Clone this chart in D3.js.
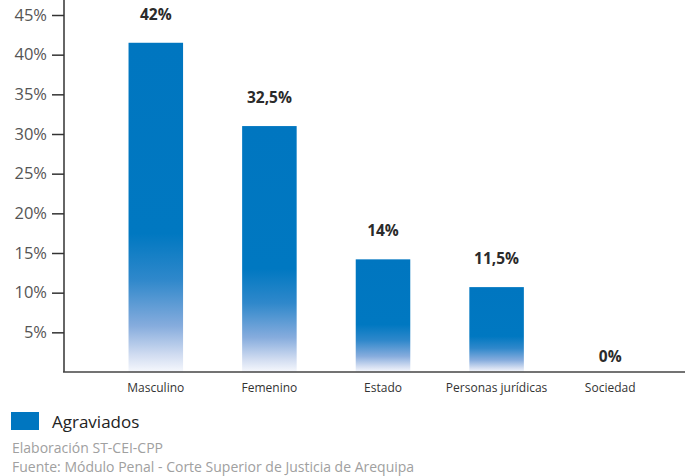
<!DOCTYPE html>
<html>
<head>
<meta charset="utf-8">
<script src="https://cdn.jsdelivr.net/npm/d3@7"></script>
<style>
  html, body { margin: 0; padding: 0; background: #fff; }
  svg { display: block; font-family: "Open Sans", "Noto Sans", sans-serif; }
</style>
</head>
<body>
<svg id="chart" width="693" height="476"></svg>
<script>
const categories = ["Masculino", "Femenino", "Estado", "Personas jurídicas", "Sociedad"];
const values = [41.5, 31.0, 14.2, 10.7, 0];
const valueLabels = ["42%", "32,5%", "14%", "11,5%", "0%"];
const yTicks = [5, 10, 15, 20, 25, 30, 35, 40, 45];
const seriesName = "Agraviados";
const footerLines = ["Elaboración ST-CEI-CPP", "Fuente: Módulo Penal - Corte Superior de Justicia de Arequipa"];

const blue = "#0076c0";
const svg = d3.select("#chart");

const defs = svg.append("defs");
const grad = defs.append("linearGradient")
  .attr("id", "barGrad").attr("x1", 0).attr("y1", 0).attr("x2", 0).attr("y2", 1);
[[0, "#0076c0"], [0.58, "#0078c1"], [0.72, "#2f88cb"], [0.86, "#86acdd"], [0.95, "#d2ddf1"], [1, "#f6f8fd"]]
  .forEach(([o, c]) => grad.append("stop").attr("offset", o).attr("stop-color", c));

const y = d3.scaleLinear().domain([0, 45]).range([372, 15]);
const x = d3.scaleBand().domain(categories).range([99, 667]).paddingInner(0.52).paddingOuter(0.26);

// bars
svg.append("g").selectAll("rect").data(values).join("rect")
  .attr("x", (d, i) => x(categories[i]))
  .attr("y", d => y(d))
  .attr("width", x.bandwidth())
  .attr("height", d => y(0) - y(d))
  .attr("fill", "url(#barGrad)");

// value labels
svg.append("g").selectAll("text").data(values).join("text")
  .attr("x", (d, i) => x(categories[i]) + x.bandwidth() / 2)
  .attr("y", d => d > 0 ? y(d) - 23 : y(0) - 10)
  .attr("text-anchor", "middle")
  .attr("font-size", 15.5)
  .attr("font-weight", 700)
  .attr("fill", "#2b2b2b")
  .text((d, i) => valueLabels[i]);

// y axis
const yAxis = d3.axisLeft(y).tickValues(yTicks).tickFormat(d => d + "%").tickSize(12).tickPadding(5);
const gy = svg.append("g").attr("transform", "translate(64,0)").call(yAxis);
gy.select(".domain").remove();
gy.selectAll(".tick line").attr("stroke", "#333").attr("stroke-width", 1.5);
gy.selectAll(".tick text").attr("font-size", 16.5).attr("fill", "#555").attr("font-family", "'Open Sans', sans-serif");
svg.append("line").attr("x1", 64).attr("x2", 64).attr("y1", 0).attr("y2", y(0))
  .attr("stroke", "#333").attr("stroke-width", 1.5);

// x axis
const xAxis = d3.axisBottom(x).tickSize(0).tickPadding(11);
const gx = svg.append("g").attr("transform", `translate(0,${y(0)})`).call(xAxis);
gx.select(".domain").remove();
gx.selectAll(".tick text").attr("font-size", 12).attr("fill", "#333").attr("font-family", "'Open Sans', sans-serif");
svg.append("line").attr("x1", 63).attr("x2", 685).attr("y1", y(0)).attr("y2", y(0))
  .attr("stroke", "#444").attr("stroke-width", 1.6);

// legend
svg.append("rect").attr("x", 11).attr("y", 412).attr("width", 28).attr("height", 18).attr("fill", blue);
svg.append("text").attr("x", 52).attr("y", 428).attr("font-size", 17).attr("fill", "#222").text(seriesName);

// footer
svg.append("g").selectAll("text").data(footerLines).join("text")
  .attr("x", 12).attr("y", (d, i) => 453 + i * 19)
  .attr("font-size", 14).attr("fill", "#a0a0a0").text(d => d);
</script>
</body>
</html>
